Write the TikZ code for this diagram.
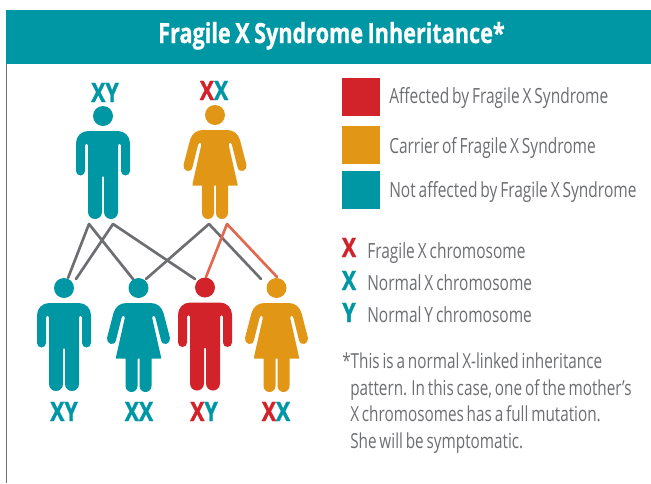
\documentclass[tikz,border=0pt]{standalone}
\usepackage{fontspec}
\setmainfont{Open Sans}
\newfontfamily\bodyfont[FakeStretch=0.74,WordSpace=0.72]{Open Sans}
\newfontfamily\headfont[FakeStretch=0.78,WordSpace=0.8,BoldFeatures={FakeBold=0.6}]{Open Sans}
\newfontfamily\chromfont[FakeStretch=0.8,BoldFeatures={FakeBold=1.2}]{Open Sans}
\definecolor{teal1}{HTML}{0097A5}
\definecolor{red1}{HTML}{D2232A}
\definecolor{amber1}{HTML}{E19615}
\definecolor{gray1}{HTML}{6D6E71}
\definecolor{line1}{HTML}{E0694F}
\tikzset{x=0.75pt,y=0.75pt,
  txt/.style={anchor=base west,inner sep=0pt,text=gray1,font=\bodyfont\fontsize{15.5}{18}\selectfont},
  txtb/.style={txt,font=\bodyfont\fontsize{15.7}{18}\selectfont},
  chrom/.style={anchor=base,inner sep=0pt,font=\chromfont\bfseries\fontsize{20}{22}\selectfont},
  swatch/.style={minimum width=28.5pt,minimum height=28.5pt,inner sep=0pt,draw=none},
  link/.style={line width=2pt,line cap=round,line join=round},
  man/.pic={
    \fill (0,15) circle[radius=10];
    \fill (-15,0) -- (15,0) arc[start angle=90,end angle=0,radius=12] -- (27,-40)
      arc[start angle=0,end angle=-180,radius=4.5] -- (18,-14)
      arc[start angle=0,end angle=180,radius=1.5] -- (15,-81)
      arc[start angle=0,end angle=-180,radius=7] -- (1,-46)
      arc[start angle=0,end angle=180,radius=1] -- (-1,-81)
      arc[start angle=0,end angle=-180,radius=7] -- (-15,-14)
      arc[start angle=0,end angle=180,radius=1.5] -- (-18,-40)
      arc[start angle=0,end angle=-180,radius=4.5] -- (-27,-12)
      arc[start angle=180,end angle=90,radius=12] -- cycle;
  },
  woman/.pic={
    \fill (0,15) circle[radius=10];
    \fill (-12,0) -- (12,0) .. controls (19,0) and (23,-4) .. (25,-10) -- (31.5,-35)
      .. controls (32.5,-41) and (24,-44) .. (22.5,-37) -- (17,-15)
      .. controls (16,-12) and (14,-12) .. (13.7,-15) -- (22.5,-54)
      -- (22.5,-55.5) -- (13,-55.5) -- (13,-83)
      arc[start angle=0,end angle=-180,radius=6] -- (1,-55.5) -- (-1,-55.5) -- (-1,-83)
      arc[start angle=0,end angle=-180,radius=6] -- (-13,-55.5) -- (-22.5,-55.5) -- (-22.5,-54)
      -- (-13.7,-15) .. controls (-14,-12) and (-16,-12) .. (-17,-15) -- (-22.5,-37)
      .. controls (-24,-44) and (-32.5,-41) .. (-31.5,-35) -- (-25,-10)
      .. controls (-23,-4) and (-19,0) .. (-12,0) -- cycle;
  }
}
\begin{document}
\begin{tikzpicture}
\useasboundingbox (0,0) rectangle (651,-483);
% frame and header
\draw[gray1,line width=1pt] (6.5,-64) -- (6.5,-483);
\fill[teal1] (6,-9.5) rectangle (651,-64);
\node[anchor=base,inner sep=0pt,text=white,font=\headfont\bfseries\fontsize{20.8}{22}\selectfont] (title) at (331.5,-43) {Fragile X Syndrome Inheritance*};
% connectors
\coordinate (fa) at (89,-224); \coordinate (fb) at (113,-224);
\coordinate (ma) at (209,-224); \coordinate (mb) at (227,-224);
\coordinate (k1a) at (68,-278); \coordinate (k1b) at (76,-279);
\coordinate (k2a) at (133,-279); \coordinate (k2b) at (146,-279);
\coordinate (k3a) at (195,-279); \coordinate (k3b) at (206,-277);
\coordinate (k4a) at (261,-279); \coordinate (k4b) at (277,-277);
\draw[link,gray1] (k1a) -- (fa) -- (k2a);
\draw[link,gray1] (k1b) -- (fb) -- (k3a);
\draw[link,gray1] (k2b) -- (ma) -- (k4a);
\draw[link,line1] (k3b) -- (mb) -- (k4b);
% people
\pic[teal1] at (103,-131) {man};
\pic[amber1] at (215,-130) {woman};
\pic[teal1] at (64,-303) {man};
\pic[teal1] at (138.5,-303) {woman};
\pic[red1] at (205,-302.5) {man};
\pic[amber1] at (276.5,-303) {woman};
% karyotypes
\node[chrom,text=teal1] (l1) at (105,-102) {XY};
\node[chrom] (l2) at (214,-100) {\textcolor{red1}{X}\textcolor{teal1}{X}};
\node[chrom,text=teal1] (l3) at (64,-421) {XY};
\node[chrom,text=teal1] (l4) at (139,-421) {XX};
\node[chrom] (l5) at (204,-421) {\textcolor{red1}{X}\textcolor{teal1}{Y}};
\node[chrom] (l6) at (276,-421) {\textcolor{red1}{X}\textcolor{teal1}{X}};
% legend
\node[swatch,fill=red1,anchor=north west] (s1) at (342,-78) {};
\node[swatch,fill=amber1,anchor=north west] (s2) at (342,-126) {};
\node[swatch,fill=teal1,anchor=north west] (s3) at (342,-171) {};
\node[txtb] (t1) at (389,-103) {Affected by Fragile X Syndrome};
\node[txtb] (t2) at (389,-153) {Carrier of Fragile X Syndrome};
\node[txtb] (t3) at (389,-197) {Not affected by Fragile X Syndrome};
\node[chrom,text=red1] (x1) at (349,-257) {X};
\node[chrom,text=teal1] (x2) at (349,-290) {X};
\node[chrom,text=teal1] (x3) at (349,-322) {Y};
\node[txtb] (t4) at (367,-258) {Fragile X chromosome};
\node[txtb] (t5) at (367,-290) {Normal X chromosome};
\node[txtb] (t6) at (367,-322) {Normal Y chromosome};
\node[txt] (n1) at (342,-368) {*This is a normal X-linked inheritance};
\node[txt] (n2) at (350,-395) {pattern. In this case, one of the mother’s};
\node[txt] (n3) at (350,-421) {X chromosomes has a full mutation.};
\node[txt] (n4) at (350,-448) {She will be symptomatic.};
\end{tikzpicture}
\end{document}
